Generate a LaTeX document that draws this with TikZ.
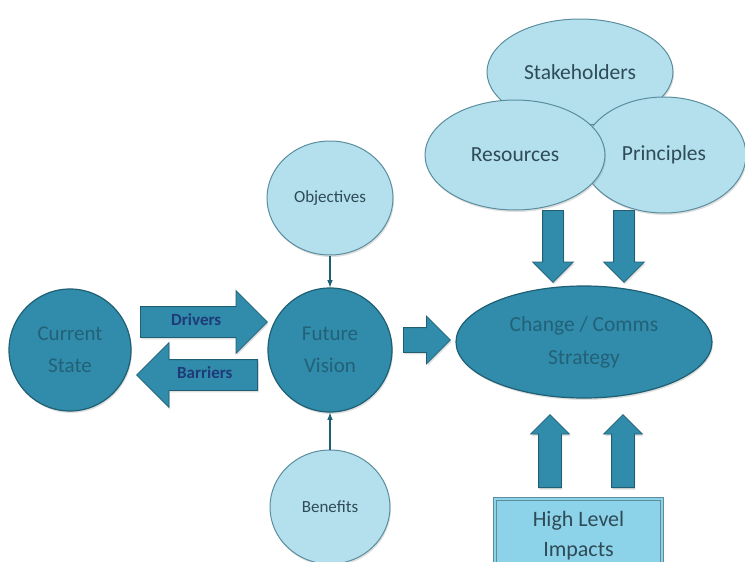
\documentclass[tikz,border=0pt]{standalone}
\usepackage{fontspec}
\setmainfont{Carlito}
\usetikzlibrary{shapes.geometric,shapes.arrows,shadows}
\definecolor{tealfill}{HTML}{308CAA}
\definecolor{tealline}{HTML}{1E5F74}
\definecolor{tealtext}{HTML}{236178}
\definecolor{lightfill}{HTML}{B4E0EE}
\definecolor{lightline}{HTML}{5A8E9E}
\definecolor{lighttext}{HTML}{2E4B57}
\definecolor{boxfill}{HTML}{8CD2E8}
\definecolor{boxline}{HTML}{5E8E9C}
\definecolor{navytext}{HTML}{1F3A78}
\tikzset{>=latex}
\tikzset{
	softshadow/.style={drop shadow={opacity=0.25, shadow xshift=1pt, shadow yshift=-2pt}},
	darkcircle/.style={circle, fill=tealfill, draw=tealline, line width=1.2pt, text=tealtext, inner sep=0pt, align=center, softshadow, font=\fontsize{21}{32}\selectfont},
	lightoval/.style={ellipse, fill=lightfill, draw=lightline, line width=1pt, text=lighttext, inner sep=0pt, softshadow},
	blockarrow/.style={single arrow, fill=tealfill, draw=tealline, line width=0.8pt, inner xsep=0pt, anchor=tail, softshadow},
	thinarrow/.style={->, draw=tealline, line width=1.5pt}
}

\begin{document}
\begin{tikzpicture}[x=1pt, y=-1pt]
		\clip (0,0) rectangle (745,562);
		% left side
		\node[darkcircle, minimum size=122pt] (cs) at (70,350) {Current\\State};
		\node[darkcircle, minimum size=124pt] (fv) at (330,350) {Future\\Vision};
		\node[lightoval, minimum width=126pt, minimum height=114pt, font=\fontsize{17}{20}\selectfont] (obj) at (330,198) {Objectives};
		\node[lightoval, minimum width=120pt, minimum height=114pt, font=\fontsize{17}{20}\selectfont] (ben) at (330,507) {Benefits};
		\node[blockarrow, minimum height=127pt, inner ysep=8.5pt, single arrow head extend=16pt, text height=10pt, text depth=3pt, text=navytext, font=\bfseries\fontsize{17}{20}\selectfont] (drv) at (140,322) {Drivers};
		\node[blockarrow, shape border rotate=180, minimum height=121pt, inner ysep=8.5pt, single arrow head extend=17pt, text height=10pt, text depth=3pt, text=navytext, font=\bfseries\fontsize{17}{20}\selectfont] (bar) at (258,375) {Barriers};
		\draw[thinarrow] (obj) -- (fv);
		\draw[thinarrow] (ben) -- (fv);
		% right side
		\node[blockarrow, minimum height=47pt, inner ysep=12pt, single arrow head extend=11.5pt] (go) at (403,340) {};
		\node[ellipse, fill=tealfill, draw=tealline, line width=1.2pt, text=tealtext, inner sep=0pt, minimum width=256pt, minimum height=112pt, align=center, softshadow, font=\fontsize{21.5}{33}\selectfont] (cc) at (584,342) {Change / Comms\\Strategy};
		\node[lightoval, minimum width=186pt, minimum height=106pt, font=\fontsize{21.5}{25}\selectfont] (stk) at (580,72) {Stakeholders};
		\node[lightoval, minimum width=164pt, minimum height=116pt, font=\fontsize{21.5}{25}\selectfont] (prn) at (664,155) {Principles};
		\node[lightoval, minimum width=180pt, minimum height=110pt, font=\fontsize{21.5}{25}\selectfont] (res) at (515,155) {Resources};
		\node[blockarrow, rotate=-90, minimum height=72pt, inner ysep=10pt, single arrow head extend=10pt] (dn1) at (553,210) {};
		\node[blockarrow, rotate=-90, minimum height=72pt, inner ysep=10pt, single arrow head extend=10pt] (dn2) at (624,210) {};
		\node[blockarrow, rotate=90, minimum height=73pt, inner ysep=11pt, single arrow head extend=8pt] (up1) at (550,488) {};
		\node[blockarrow, rotate=90, minimum height=73pt, inner ysep=11pt, single arrow head extend=8pt] (up2) at (623,488) {};
		\node[fill=boxfill, draw=boxline, line width=1pt, double=boxfill, double distance=2pt, minimum width=167pt, minimum height=74pt, anchor=north, align=center, text=lighttext, font=\fontsize{22}{30}\selectfont] (hli) at (578.5,498) {High Level\\Impacts};
	\end{tikzpicture}
\end{document}
